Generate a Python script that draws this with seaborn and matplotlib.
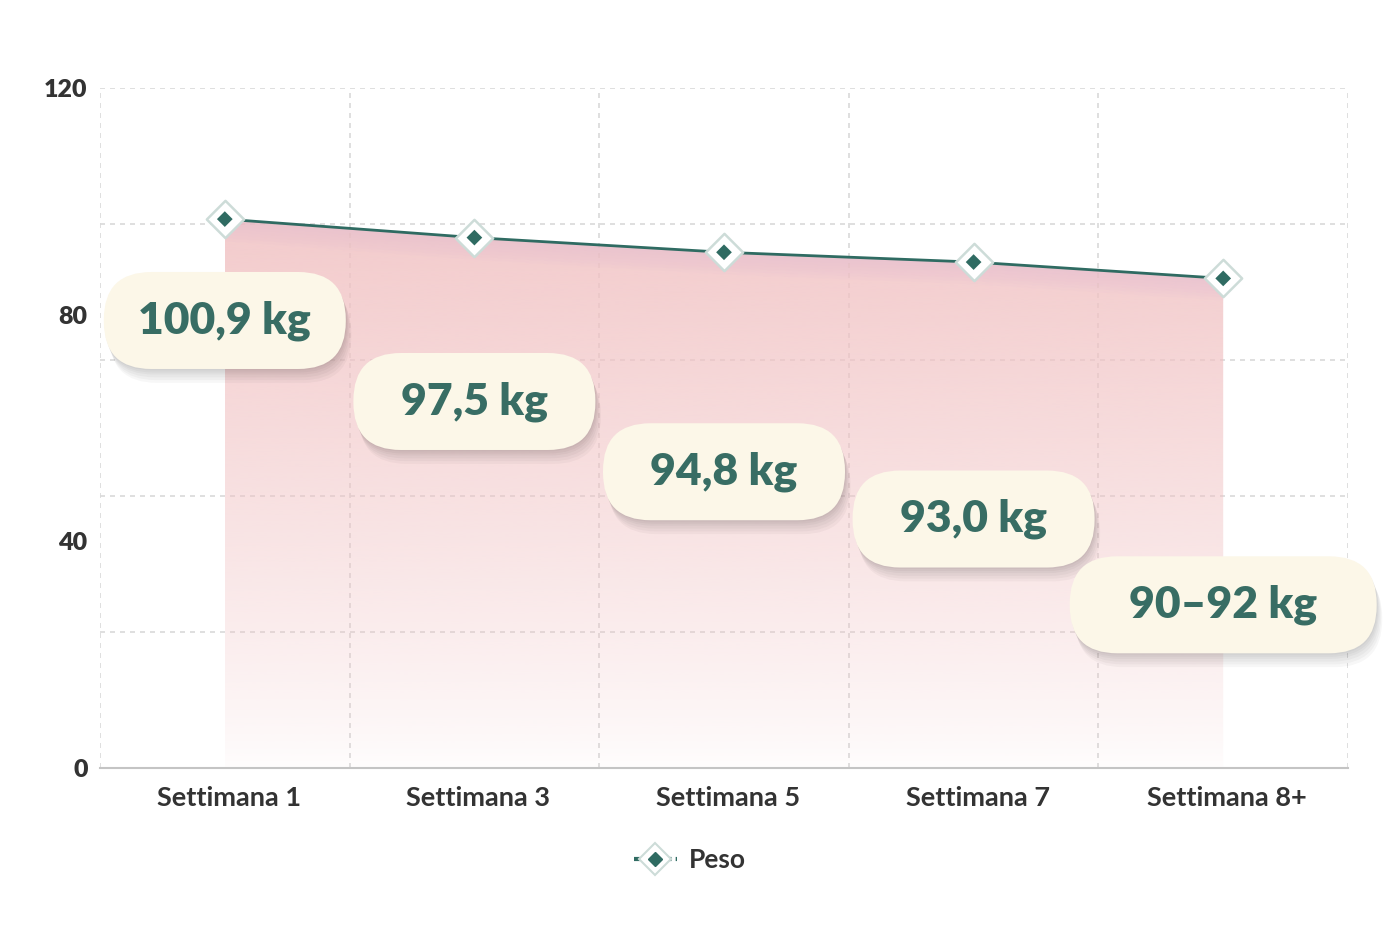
import numpy as np
import pandas as pd
import matplotlib
matplotlib.use("Agg")
import matplotlib.pyplot as plt
import matplotlib.patheffects as pe
from matplotlib.colors import to_rgb
from matplotlib.lines import Line2D
from matplotlib.patches import BoxStyle
from matplotlib.legend_handler import HandlerTuple
import seaborn as sns

# dati
settimane = ["Settimana 1", "Settimana 3", "Settimana 5", "Settimana 7", "Settimana 8+"]
peso = [100.9, 97.5, 94.8, 93.0, 90.0]
etichette = ["100,9 kg", "97,5 kg", "94,8 kg", "93,0 kg", "90–92 kg"]
tick_y = [0, 40, 80, 120]

# colori
TEAL = "#2f6b62"
TEXT_TEAL = "#386d64"
CREAM = "#fcf7e8"
GRID = "#d9d9d9"
DARK = "#333333"

# layout delle etichette: distanza sotto il punto (pt) e larghezza box (px)
box_offset = [73, 118, 158, 185, 235]
box_width = [242, 242, 242, 242, 307]
BOX_H = 97

sns.set_theme(style="white")
plt.rcParams["font.family"] = ["Lato", "DejaVu Sans"]

fig = plt.figure(figsize=(13.88, 9.26), dpi=100)
ax = fig.add_axes([100 / 1388, 158 / 926, 1248 / 1388, 680 / 926])

x = np.arange(len(settimane))
df = pd.DataFrame({"x": x, "peso": peso})

# riempimento sfumato sotto la linea
n = 256
v = np.linspace(0, 1, n)[:, None]
rgba = np.zeros((n, 1, 4))
rgba[..., :3] = to_rgb("#f1c2c3")
rgba[..., 3] = 0.03 + 0.82 * v ** 0.8
im = ax.imshow(rgba, extent=(x[0], x[-1], 0, max(peso)), origin="lower",
               aspect="auto", zorder=1, interpolation="bicubic")
poly = ax.fill_between(x, 0, peso, color="none", lw=0)
im.set_clip_path(poly.get_paths()[0], transform=ax.transData)

# leggera banda lilla sotto la linea
for k in np.linspace(0.6, 4, 7):
    ax.fill_between(x, np.array(peso) - k, peso, color="#d9b2d8", alpha=0.045,
                    lw=0, zorder=1.5)

sns.lineplot(data=df, x="x", y="peso", color=TEAL, lw=2, ax=ax, zorder=4,
             legend=False)
sns.scatterplot(data=df, x="x", y="peso", marker="D", s=19 ** 2, color="white",
                edgecolor="#cddcd8", linewidth=1.8, ax=ax, zorder=5, legend=False)
sns.scatterplot(data=df, x="x", y="peso", marker="D", s=8 ** 2, color=TEAL,
                edgecolor="none", ax=ax, zorder=6, legend=False)

ax.set_xlim(-0.5, len(settimane) - 0.5)
ax.set_ylim(0, 125)
ax.set_xlabel("")
ax.set_ylabel("")

# griglia
ax.set_yticks(np.arange(0, 126, 25))
ax.set_yticklabels([])
ax.set_xticks(x, settimane)
ax.set_xticks(np.arange(-0.5, len(settimane)), minor=True)
ax.grid(True, axis="y", which="major", color=GRID, ls=(0, (3, 3)), lw=1.2)
ax.grid(True, axis="x", which="minor", color=GRID, ls=(0, (3, 3)), lw=1.2)
ax.grid(False, axis="x", which="major")
for s in ["left", "right", "top"]:
    ax.spines[s].set_visible(False)
ax.spines["bottom"].set_color("#c4c4c4")
ax.spines["bottom"].set_linewidth(1.5)
ax.tick_params(axis="y", length=0)
ax.tick_params(axis="x", which="major", length=0, pad=13, labelsize=19.5,
               labelcolor=DARK)
ax.tick_params(axis="x", which="minor", length=5, width=1, color="#aaaaaa")
for lab in ax.get_xticklabels():
    lab.set_fontweight("bold")
    lab.set_x(lab.get_position()[0])
    lab.set_transform(lab.get_transform()
                      + matplotlib.transforms.ScaledTranslation(4 / 100, 0,
                                                                 fig.dpi_scale_trans))

# etichette asse y (scala 0-120)
sec = ax.secondary_yaxis("left", functions=(lambda t: t * 120 / 125,
                                            lambda t: t * 125 / 120))
sec.set_yticks(tick_y)
sec.tick_params(length=0, pad=9, labelsize=18, labelcolor=DARK)
sec.spines["left"].set_visible(False)
for lab in sec.get_yticklabels():
    lab.set_fontweight("heavy")


def pill(width_px):
    def style(x0, y0, w, h, mutation_size):
        cx, cy = x0 + w / 2, y0 + h / 2
        r = 0.49 * BOX_H / mutation_size
        return BoxStyle.Round(pad=0, rounding_size=r)(
            cx - width_px / 2, cy - BOX_H / 2, width_px, BOX_H, mutation_size)
    return style


shadow = [pe.SimplePatchShadow(offset=(o * 0.4, -o), shadow_rgbFace="black",
                               alpha=0.03) for o in (1, 2.5, 4, 6, 8, 10)]
for xi, yi, lbl, off, bw in zip(x, peso, etichette, box_offset, box_width):
    t = ax.annotate(lbl, xy=(xi, yi), xytext=(0, -off),
                    textcoords="offset points", ha="center", va="center",
                    fontsize=32, fontweight="heavy", color=TEXT_TEAL, zorder=8,
                    bbox=dict(boxstyle=pill(bw), fc=CREAM, ec="none"))
    t.get_bbox_patch().set_path_effects(shadow + [pe.Normal()])

# legenda
h1 = Line2D([], [], color=TEAL, lw=3, ls=(0, (1.5, 1.0)), marker="D", ms=16,
            mfc="white", mec="#cddcd8", mew=1.5)
h2 = Line2D([], [], ls="none", marker="D", ms=7.5, color=TEAL)
fig.legend([(h1, h2)], ["Peso"], handler_map={tuple: HandlerTuple(ndivide=1)},
           loc="center", bbox_to_anchor=(0.497, 0.071), frameon=False,
           prop={"size": 19, "weight": "bold"}, labelcolor=DARK,
           handlelength=1.6, handletextpad=0.45)

fig.savefig("out.png", dpi=100)
